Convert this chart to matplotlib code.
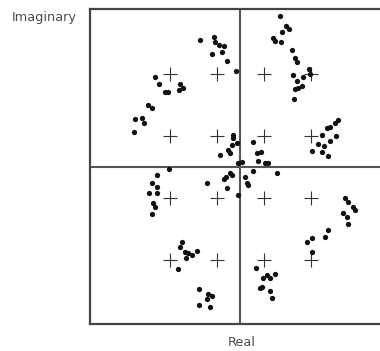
import numpy as np
import matplotlib
matplotlib.use("Agg")
import matplotlib.pyplot as plt

# ideal 16-QAM constellation levels
levels = [-3, -1, 1, 3]

# received symbols (real part, imaginary part)
re_pts = [
    -1.72, -1.11, -1.09, -0.90, -0.70, -0.80, -1.23, -0.56, -0.20,
    -3.64, -3.45, -3.23, -3.07, -2.60, -2.43, -2.57, -3.92, -3.78, -4.49, -4.20, -4.11, -4.53,
    -0.33, -0.31, -0.37, -0.16, -0.52, -0.45, -0.87, -0.09,
    1.68, 1.94, 2.08, 1.75, 1.40, 1.47, 1.72, 2.20, 2.32, 2.39, 2.25, 2.39, 2.65, 2.93, 2.96,
    2.32, 2.46, 2.60, 2.29,
    4.16, 4.02, 3.81, 3.67, 3.46, 4.06, 3.81, 3.55, 3.31, 3.03, 3.46, 3.74,
    0.52, 0.69, 0.86, 0.76, 1.04, 0.05, 1.17,
    -1.41, -0.62, -0.45, -0.70, -0.59, -0.37, -0.09, 0.19, 0.26, 0.33, 0.54, 1.54, -3.03,
    -3.57, -3.78, -3.54, -3.88, -3.57, -3.74, -3.64, -3.78,
    -2.50, -2.57, -2.36, -2.22, -2.08, -1.86, -2.32, -2.65,
    -1.75, -1.37, -1.23, -1.44, -1.77, -1.30,
    0.66, 1.11, 1.47, 1.26, 0.97, 0.90, 0.83, 1.26, 1.33,
    2.82, 3.03, 3.03, 3.60, 3.74, 4.45, 4.59, 4.77, 4.87, 4.37, 4.52, 4.59,
]
im_pts = [
    4.10, 4.20, 4.04, 3.94, 3.90, 3.72, 3.65, 3.43, 3.10,
    2.91, 2.68, 2.43, 2.43, 2.48, 2.54, 2.68, 2.00, 1.89, 1.54, 1.57, 1.43, 1.12,
    1.03, 0.93, 0.71, 0.76, 0.55, 0.44, 0.39, 0.12,
    4.86, 4.56, 4.45, 4.36, 4.18, 4.07, 4.02, 3.78, 3.51, 3.40, 2.97, 2.78, 2.89, 3.16, 3.00,
    2.52, 2.54, 2.60, 2.19,
    1.53, 1.42, 1.28, 1.25, 1.03, 0.99, 0.85, 0.69, 0.74, 0.53, 0.47, 0.36,
    0.80, 0.45, 0.49, 0.20, 0.13, 0.15, 0.13,
    -0.51, -0.31, -0.18, -0.40, -0.69, -0.26, -0.90, -0.31, -0.51, -0.58, -0.12, -0.18, -0.07,
    -0.26, -0.53, -0.64, -0.85, -0.83, -1.17, -1.30, -1.52,
    -2.41, -2.59, -2.73, -2.78, -2.84, -2.70, -2.95, -3.30,
    -3.95, -4.10, -4.18, -4.27, -4.45, -4.51,
    -3.27, -3.48, -3.46, -3.59, -3.59, -3.86, -3.91, -4.02, -4.24,
    -2.41, -2.30, -2.73, -2.25, -2.05, -1.01, -1.12, -1.28, -1.39, -1.49, -1.62, -1.84,
]

fig = plt.figure(figsize=(3.8, 3.51), dpi=100)
ax = fig.add_axes([0.2368, 0.0769, 0.7921, 0.8974])

gx, gy = np.meshgrid(levels, levels)
ax.plot(gx.ravel(), gy.ravel(), '+', color='#333333', ms=9.5, mew=0.8, zorder=3)
ax.plot(re_pts, im_pts, 'o', color='#111111', ms=3.8, mew=0, zorder=4)

ax.axhline(0, color='#555555', lw=1.5, zorder=2)
ax.axvline(0, color='#555555', lw=1.5, zorder=2)

ax.set_xlim(-6.4, 6.4)
ax.set_ylim(-5.07, 5.1)
ax.set_xticks([])
ax.set_yticks([])
for s in ax.spines.values():
    s.set_linewidth(1.6)
    s.set_color('#444444')
# the frame runs off the right edge of the picture
ax.spines['right'].set_visible(False)

fig.text(0.032, 0.94, "Imaginary", fontsize=9.3, color='#4d4d4d', ha='left', va='baseline')
fig.text(0.637, 0.025, "Real", fontsize=9.3, color='#4d4d4d', ha='center', va='center')

fig.savefig("out.png", dpi=100)
